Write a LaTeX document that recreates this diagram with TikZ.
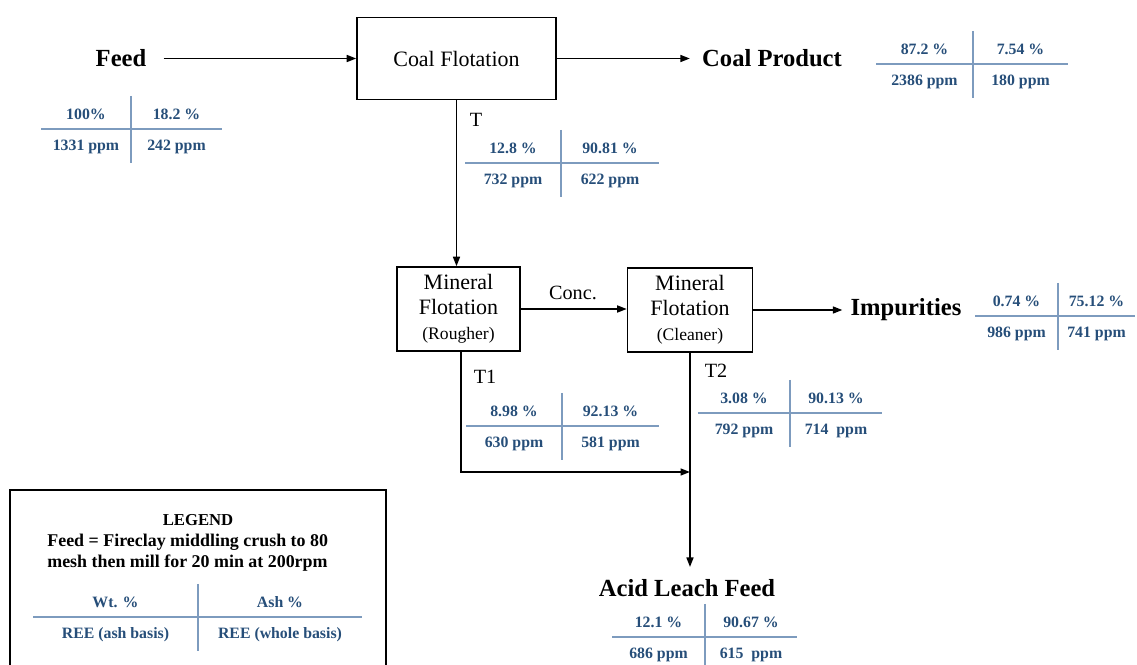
\documentclass[tikz,border=0pt]{standalone}
\usepackage{fontspec}
\setmainfont{Liberation Serif}
\usetikzlibrary{arrows.meta}
\definecolor{dblue}{RGB}{38,78,121}
\definecolor{lblue}{RGB}{125,155,190}
\tikzset{
  arr/.style={draw, line width=0.9pt, -{Triangle[length=0.19cm,width=0.14cm]}},
  box/.style={draw, line width=0.9pt, align=center, font=\fontsize{12.5}{14.2}\selectfont},
  big/.style={inner sep=0pt, font=\bfseries\fontsize{14}{16}\selectfont},
  lab/.style={inner sep=0pt, font=\fontsize{11.5}{13}\selectfont},
  dat/.style={inner sep=0pt, text=dblue, font=\bfseries\fontsize{9}{10}\selectfont},
  tabline/.style={draw=lblue, line width=0.6pt},
  leg/.style={inner sep=0pt, anchor=west, font=\bfseries\fontsize{10.2}{12}\selectfont},
}
\newcommand\dtab[9]{%
  \draw[tabline] ({#2-#4},#3) -- ({#2+#5},#3);
  \draw[tabline] (#2,#3-33) -- (#2,#3+34);
  \node[dat] (#1tl) at ({#2-#4/2},#3-15) {#6};
  \node[dat] (#1tr) at ({#2+#5/2},#3-15) {#7};
  \node[dat] (#1bl) at ({#2-#4/2},#3+18) {#8};
  \node[dat] (#1br) at ({#2+#5/2},#3+18) {#9};
}
\begin{document}
\begin{tikzpicture}[x=0.02cm,y=-0.02cm]
\useasboundingbox (0,0) rectangle (1137,665);
% boxes
\node[box, minimum width=3.98cm, minimum height=1.64cm] (cf) at (456.5,58.5) {Coal Flotation};
\node[box, minimum width=2.46cm, minimum height=1.68cm, inner sep=0pt] (rough) at (458.5,309)
  {Mineral\\Flotation\\{\fontsize{10}{12}\selectfont (Rougher)}};
\node[box, minimum width=2.5cm, minimum height=1.68cm, inner sep=0pt] (clean) at (690,310)
  {Mineral\\Flotation\\{\fontsize{10}{12}\selectfont (Cleaner)}};
% labels
\node[big] (feed) at (121,58.5) {Feed};
\node[big] (cprod) at (772,58.5) {Coal Product};
\node[big] (imp) at (906,310) {Impurities};
\node[big] (acid) at (687,588) {Acid Leach Feed};
\node[lab] (tl) at (476,120) {T};
\node[lab] (conc) at (573,293) {Conc.};
\node[lab] (t1) at (485,377) {T1};
\node[lab] (t2) at (716,371) {T2};
% connectors
\draw[arr, shorten <=0.34cm] (feed.east) -- (feed.east -| cf.west);
\draw[arr, shorten >=0.24cm] (cf.east) -- (cprod.west);
\draw[arr] (cf.south) -- (cf.south |- rough.north);
\draw[arr] (rough.east) -- (rough.east -| clean.west);
\draw[arr, shorten >=0.16cm] (clean.east) -- (clean.east -| imp.west);
\coordinate (j) at (690,472);
\draw[arr] ([xshift=0.05cm]rough.south) |- (j);
\draw[arr, shorten >=0.24cm] (clean.south) -- (clean.south |- acid.north);
% data tables
\dtab{fd}{131}{129}{90}{91}{100\%}{18.2 \%}{1331 ppm}{242 ppm}
\dtab{cp}{973}{64}{97}{95}{87.2 \%}{7.54 \%}{2386 ppm}{180 ppm}
\dtab{tt}{561}{163}{96}{98}{12.8 \%}{90.81 \%}{732 ppm}{622 ppm}
\dtab{im}{1058}{316}{83}{77}{0.74 \%}{75.12 \%}{986 ppm}{741 ppm}
\dtab{ta}{562}{426}{96}{97}{8.98 \%}{92.13 \%}{630 ppm}{581 ppm}
\dtab{tb}{790}{413}{92}{92}{3.08 \%}{90.13 \%}{792 ppm}{714\ \ ppm}
\dtab{al}{705}{637}{93}{92}{12.1 \%}{90.67 \%}{686 ppm}{615\ \ ppm}
% legend
\draw[line width=0.9pt] (10,668) -- (10,490) -- (386,490) -- (386,668);
\node[inner sep=0pt, font=\bfseries\fontsize{9.5}{11}\selectfont] (legt) at (198,520) {LEGEND};
\node[leg] (leg1) at (47,542) {Feed = Fireclay middling crush to 80};
\node[leg] (leg2) at (47,563) {mesh then mill for 20 min at 200rpm};
\dtab{lg}{198}{617}{165}{164}{Wt. \%}{Ash \%}{REE (ash basis)}{REE (whole basis)}
\end{tikzpicture}
\end{document}
